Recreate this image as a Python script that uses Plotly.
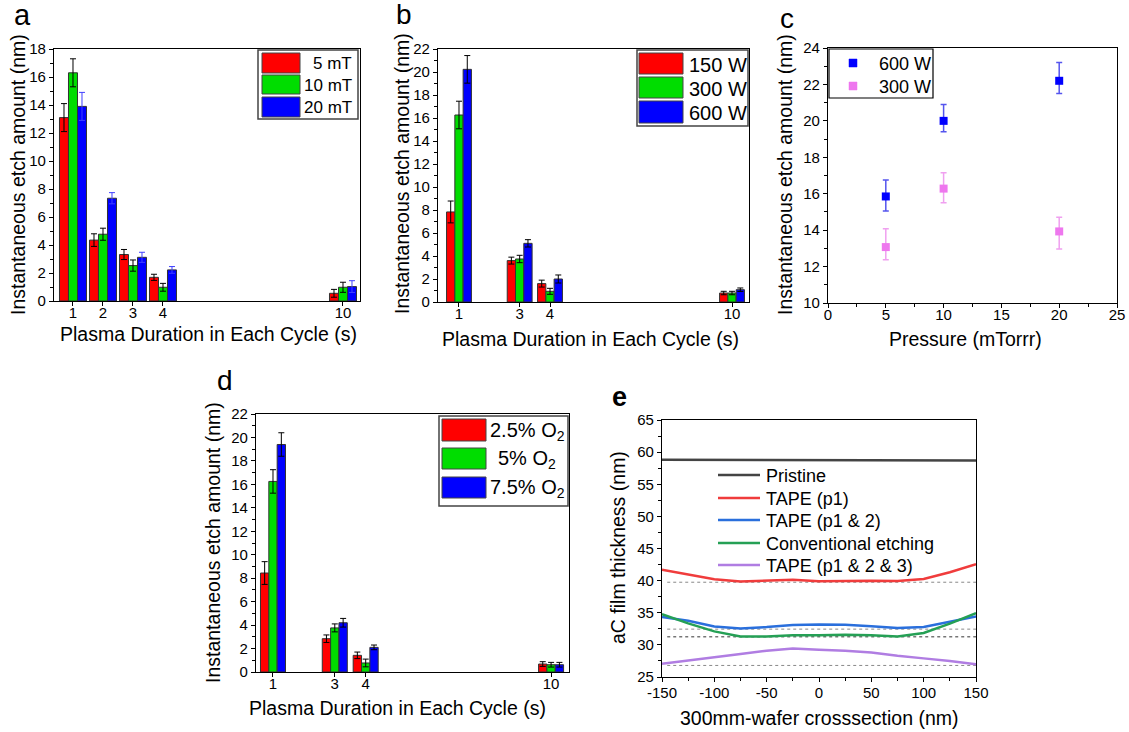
import plotly.graph_objects as go

# ---------------- data ----------------
# (a) pressure series
durations_a = [1, 2, 3, 4, 10]
names_a = ["5 mT", "10 mT", "20 mT"]
a_vals = [[13.1, 4.35, 3.32, 1.69, 0.55],
          [16.3, 4.77, 2.53, 0.98, 0.98],
          [13.9, 7.34, 3.12, 2.22, 1.03]]
a_errs = [[1.0, 0.45, 0.36, 0.22, 0.28],
          [1.0, 0.43, 0.40, 0.28, 0.36],
          [1.0, 0.40, 0.36, 0.24, 0.42]]

# (b) power series
durations_b = [1, 3, 4, 10]
names_b = ["150 W", "300 W", "600 W"]
b_vals = [[7.83, 3.60, 1.60, 0.78],
          [16.26, 3.74, 0.93, 0.78],
          [20.23, 5.10, 2.00, 1.07]]
b_errs = [[0.95, 0.30, 0.30, 0.15],
          [1.20, 0.32, 0.26, 0.15],
          [1.20, 0.32, 0.35, 0.15]]

# (c) pressure scan
pressure_c = [5, 10, 20]
names_c = ["600 W", "300 W"]
c_vals = [[15.85, 20.0, 22.2], [13.07, 16.28, 13.93]]
c_err_plus = [[0.90, 0.90, 1.00], [1.00, 0.87, 0.78]]
c_err_minus = [[0.80, 0.60, 0.70], [0.70, 0.77, 0.97]]

# (d) O2 fraction
durations_d = [1, 3, 4, 10]
names_d = ["2.5% O<sub>2</sub>", "5% O<sub>2</sub>", "7.5% O<sub>2</sub>"]
d_vals = [[8.44, 2.84, 1.42, 0.68],
          [16.25, 3.76, 0.77, 0.62],
          [19.40, 4.20, 2.10, 0.62]]
d_errs = [[0.97, 0.32, 0.28, 0.20],
          [1.00, 0.34, 0.33, 0.20],
          [1.00, 0.37, 0.20, 0.20]]

# (e) thickness profiles
x_e = [-150, -125, -100, -75, -50, -25, 0, 25, 50, 75, 100, 125, 150]
names_e = ["Pristine", "TAPE (p1)", "TAPE (p1 & 2)", "Conventional etching", "TAPE (p1 & 2 & 3)"]
e_vals = [
    [58.8, 58.8, 58.75, 58.75, 58.75, 58.8, 58.8, 58.8, 58.8, 58.75, 58.75, 58.7, 58.7],
    [41.7, 41.0, 40.2, 39.85, 39.95, 40.15, 39.9, 40.0, 40.0, 39.95, 40.25, 41.3, 42.55],
    [34.33, 33.75, 32.85, 32.56, 32.77, 33.08, 33.19, 33.13, 32.88, 32.62, 32.77, 33.55, 34.43],
    [34.79, 33.35, 32.1, 31.32, 31.32, 31.48, 31.48, 31.58, 31.48, 31.32, 31.84, 33.3, 34.95],
    [27.07, 27.54, 28.1, 28.58, 29.1, 29.42, 29.25, 29.1, 28.83, 28.3, 27.9, 27.5, 26.97],
]
e_baselines = [39.75, 32.45, 31.25, 26.8]
e_base_x = [-145, 150]
e_xticks = [-150, -100, -50, 0, 50, 100, 150]
e_xticktext = ["-150", "-100", "-50", "0", "50", "100", "150"]

# ---------------- styling ----------------
W, H = 1129, 732
FONT = "Liberation Sans, Arial, sans-serif"
bar_colors = ["#ff0000", "#00dd00", "#0000ff"]
c_colors = ["#0000ff", "#ee77ee"]
c_err_colors = ["#5555ee", "#f0a0f0"]
e_colors = ["#444444", "#f03c3c", "#2a6fdc", "#25a055", "#b07de2"]
base_colors = ["#888888", "#888888", "#333333", "#888888"]


def px(x):
    return x / W


def py(y):
    return 1 - y / H


fig = go.Figure()


def add_bars(xs, vals, errs, xa, ya, group, err_colors, names):
    n = len(vals)
    w = group / n
    for i in range(n):
        fig.add_trace(go.Bar(
            x=xs, y=vals[i], xaxis=xa, yaxis=ya, name=names[i],
            width=w, offset=-group / 2 + i * w,
            marker=dict(color=bar_colors[i], line=dict(color="#333333", width=1)),
            error_y=dict(type="data", array=errs[i], color=err_colors[i],
                         thickness=1, width=3),
            showlegend=False))


add_bars(durations_a, a_vals, a_errs, "x", "y", 0.9, ["black", "black", "#4040ff"], names_a)
add_bars(durations_b, b_vals, b_errs, "x2", "y2", 0.82, ["black", "black", "black"], names_b)
add_bars(durations_d, d_vals, d_errs, "x4", "y4", 0.81, ["black", "black", "black"], names_d)

for i in range(2):
    fig.add_trace(go.Scatter(
        x=pressure_c, y=c_vals[i], xaxis="x3", yaxis="y3", mode="markers",
        name=names_c[i], showlegend=False,
        marker=dict(symbol="square", size=8, color=c_colors[i]),
        error_y=dict(type="data", symmetric=False, array=c_err_plus[i],
                     arrayminus=c_err_minus[i], color=c_err_colors[i],
                     thickness=1.5, width=3)))

for j, b in enumerate(e_baselines):
    fig.add_trace(go.Scatter(
        x=e_base_x, y=[b, b], xaxis="x5", yaxis="y5", mode="lines",
        line=dict(color=base_colors[j], width=1, dash="dot"),
        showlegend=False, hoverinfo="skip"))

for i in range(5):
    fig.add_trace(go.Scatter(
        x=x_e, y=e_vals[i], xaxis="x5", yaxis="y5", mode="lines",
        name=names_e[i], showlegend=False,
        line=dict(color=e_colors[i], width=2.5)))

common = dict(showline=True, linecolor="black", linewidth=1.2, mirror=True,
              ticks="outside", ticklen=4, tickwidth=1, tickcolor="black",
              showgrid=False, zeroline=False, automargin=False,
              tickfont=dict(size=15, color="black", family=FONT))


def minor(d):
    return dict(ticks="outside", dtick=d, ticklen=2.5, tickcolor="black", showgrid=False)


xstand = dict(ticklabelstandoff=-6)
yfont = dict(size=15, color="black", family=FONT)

layout = dict(
    template="none",
    width=W, height=H, margin=dict(l=0, r=0, t=0, b=0, pad=0),
    paper_bgcolor="white", plot_bgcolor="white",
    font=dict(family=FONT, color="black"),
    barmode="overlay", showlegend=False,
    xaxis=dict(common, **xstand, domain=[px(54), px(360)], range=[0.367, 10.567],
               tickmode="array", tickvals=durations_a, anchor="y"),
    yaxis=dict(common, domain=[py(301), py(49)], range=[0, 18], dtick=2,
               tickfont=yfont, minor=minor(1), anchor="x"),
    xaxis2=dict(common, **xstand, domain=[px(438), px(749)], range=[0.308, 10.56],
                tickmode="array", tickvals=durations_b, anchor="y2"),
    yaxis2=dict(common, domain=[py(302), py(49)], range=[0, 22], dtick=2,
                tickfont=yfont, minor=minor(1), anchor="x2"),
    xaxis3=dict(common, **xstand, domain=[px(828), px(1117)], range=[0, 25], dtick=5,
                minor=minor(2.5), anchor="y3"),
    yaxis3=dict(common, domain=[py(303), py(48)], range=[10, 24], dtick=2,
                tickfont=yfont, minor=minor(1), anchor="x3"),
    xaxis4=dict(common, **xstand, domain=[px(256), px(569)], range=[0.45, 10.58],
                tickmode="array", tickvals=durations_d, anchor="y4"),
    yaxis4=dict(common, domain=[py(672), py(414)], range=[0, 22], dtick=2,
                tickfont=yfont, minor=minor(1), anchor="x4"),
    xaxis5=dict(common, ticklabelstandoff=-2, domain=[px(662), px(976)],
                range=[-150, 150], tickmode="array", tickvals=e_xticks,
                ticktext=e_xticktext, minor=minor(25), anchor="y5"),
    yaxis5=dict(common, domain=[py(677), py(420)], range=[25, 65], dtick=5,
                tickfont=yfont, minor=minor(2.5), anchor="x5"),
)
fig.update_layout(**layout)

# ---------------- custom legends ----------------
shapes = []
annotations = []


def text(t, x, y, size, anchor="left"):
    annotations.append(dict(text=t, xref="paper", yref="paper", x=px(x), y=py(y),
                            xanchor=anchor, yanchor="middle", showarrow=False,
                            font=dict(size=size, color="black")))


def rect(x0, y0, x1, y1, fill, line="#444444", lw=1.0):
    shapes.append(dict(type="rect", xref="paper", yref="paper",
                       x0=px(x0), x1=px(x1), y0=py(y1), y1=py(y0),
                       line=dict(color=line, width=lw), fillcolor=fill))


def bar_legend(box, sw_x, rows, names, text_x, anchor, size):
    rect(box[0], box[1], box[2], box[3], "white", "#444444", 1.5)
    for i, (r0, r1) in enumerate(rows):
        rect(sw_x[0], r0, sw_x[1], r1, bar_colors[i])
        text(names[i], text_x, (r0 + r1) / 2 + 1, size, anchor)


bar_legend((258, 50, 358, 119), (262, 300), [(53, 73), (75, 94), (97, 117)],
           names_a, 354, "right", 17)
bar_legend((637, 50, 748, 126), (639, 683), [(53, 74), (77, 98), (101, 123)],
           names_b, 687, "left", 20)
bar_legend((439, 416, 568, 506), (442, 486), [(419, 441), (448, 469), (477, 498)],
           names_d, 527, "center", 20)

# legend (c): markers
rect(829, 49, 933, 98, "white", "black", 1.2)
for i, yc in enumerate([63, 86]):
    rect(849, yc - 4, 857, yc + 4, c_colors[i], c_colors[i], 0.5)
    text(names_c[i], 877, yc + 1, 18)

# legend (e): lines
for i, yc in enumerate([475, 498, 520, 543, 565]):
    shapes.append(dict(type="line", xref="paper", yref="paper",
                       x0=px(718), x1=px(760), y0=py(yc), y1=py(yc),
                       line=dict(color=e_colors[i], width=2.5)))
    text(names_e[i], 764, yc + 1, 18)


def label(t, x, y, size, angle=0, bold=False):
    annotations.append(dict(text=("<b>%s</b>" % t) if bold else t,
                            xref="paper", yref="paper", x=px(x), y=py(y),
                            xanchor="center", yanchor="middle", showarrow=False,
                            textangle=angle, font=dict(size=size, color="black")))


# panel letters
label("a", 22, 15, 29)
label("b", 404, 15, 28)
label("c", 787, 18, 28)
label("d", 225, 380, 28)
label("e", 619, 397, 27, bold=True)

# axis titles
xt = "Plasma Duration in Each Cycle (s)"
yt = "Instantaneous etch amount (nm)"
label(xt, 208, 334, 19.5)
label(xt, 590, 339, 19.5)
label("Pressure (mTorrr)", 965, 339, 19.5)
label(xt, 397, 708, 19.5)
label("300mm-wafer crosssection (nm)", 819, 718, 19.5)
label(yt, 18, 175, 19.5, angle=-90)
label(yt, 402, 174, 19.5, angle=-90)
label(yt, 785, 175, 19.5, angle=-90)
label(yt, 213, 543, 19.5, angle=-90)
label("aC film thickness (nm)", 618, 548, 19.5, angle=-90)

fig.update_layout(shapes=shapes, annotations=annotations)

fig.write_html("out.html", config={"displayModeBar": False},
               post_script="document.body.style.margin='0';document.body.style.overflow='hidden';")
